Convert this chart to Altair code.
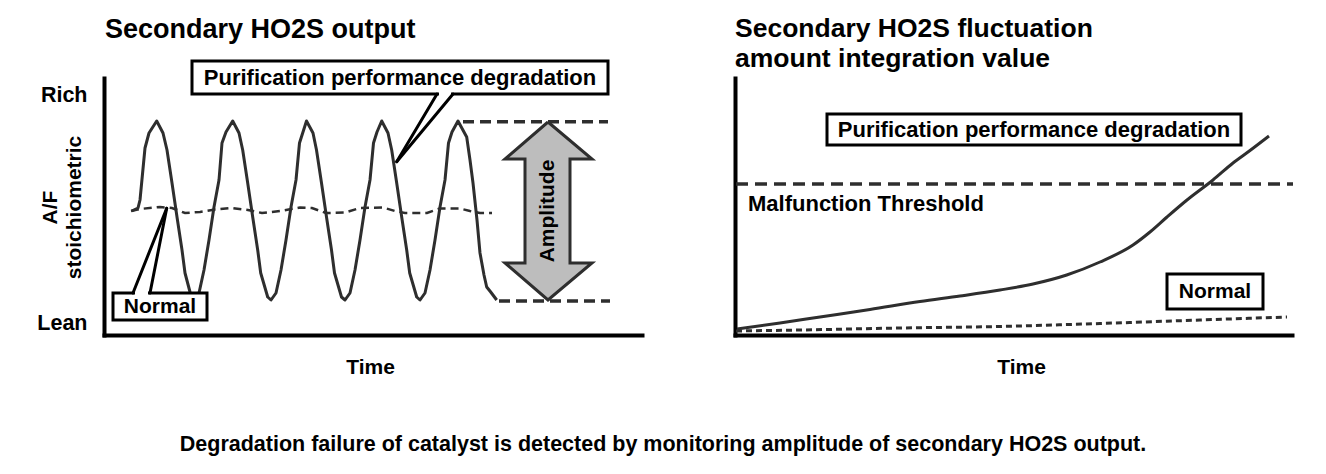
import altair as alt
import pandas as pd

FONT = "Liberation Sans"
INK = "#2e2e2e"
BLACK = "#000000"

# ---------------- left panel: Secondary HO2S output (time vs A/F level) ----------------
left_x_domain = [0, 53.8]
left_y_domain = [0, 25.7]

degraded_output = [
    (2.77, 12.4), (3.4, 12.7), (3.6, 13.5), (4.1, 18.7), (4.5, 20.2), (5.27, 21.4),
    (5.9, 20.2), (6.3, 18.5), (6.8, 15.2), (7.3, 11.8), (7.8, 8.5), (8.1, 6.2), (8.6, 4.3), (9.0, 3.7),
    (9.5, 4.2), (10.0, 6.5), (10.5, 9.5), (11.0, 12.8), (11.5, 15.5), (11.8, 19.2), (12.2, 20.3), (12.87, 21.4),
    (13.5, 20.2), (13.87, 18.5), (14.37, 15.2), (14.87, 11.8), (15.37, 8.5), (15.67, 6.2), (16.37, 3.8), (16.7, 3.5),
    (17.2, 4.2), (17.7, 6.5), (18.2, 9.5), (18.7, 12.8), (19.2, 15.5), (19.55, 19.2), (19.9, 20.3), (20.25, 21.4),
    (20.9, 20.2), (21.25, 18.5), (21.75, 15.2), (22.25, 11.8), (22.75, 8.5), (23.05, 6.2), (23.75, 3.8), (24.1, 3.5),
    (24.6, 4.2), (25.1, 6.5), (25.6, 9.5), (26.1, 12.8), (26.6, 15.5), (26.95, 19.2), (27.3, 20.3), (27.77, 21.4),
    (28.4, 20.2), (28.77, 18.5), (29.27, 15.2), (29.77, 11.8), (30.27, 8.5), (30.57, 6.2), (31.27, 3.8), (31.6, 3.5),
    (32.1, 4.2), (32.6, 6.5), (33.1, 9.5), (33.6, 12.8), (34.1, 15.5), (34.45, 19.2), (34.8, 20.3), (35.4, 21.4),
    (36.27, 19.8), (36.6, 17.5), (36.9, 15.2), (37.3, 11.5), (37.6, 8.2), (38.0, 6.0), (38.27, 4.8),
    (38.67, 4.3), (39.27, 3.5),
]
normal_output = [
    (2.7, 12.4), (3.6, 12.6), (5.6, 12.8), (6.8, 12.7), (8.1, 12.2), (9.6, 12.3), (11.1, 12.55),
    (12.8, 12.7), (14.4, 12.5), (15.8, 12.2), (17.6, 12.4), (19.6, 12.75), (20.8, 12.7), (22.2, 12.2),
    (24.1, 12.25), (25.6, 12.7), (27.9, 12.75), (29.1, 12.4), (30.1, 12.2), (32.3, 12.2), (33.6, 12.65),
    (35.6, 12.65), (36.6, 12.4), (37.6, 12.2), (38.8, 12.2),
]
# amplitude guide lines: x start, x end, level
amplitude_guides = [(35.9, 50.4, 21.33), (39.5, 50.6, 3.4)]
# double-headed arrow outline
arrow_outline = [(44.4, 21.3), (48.8, 17.6), (46.6, 17.6), (46.6, 7.2), (48.8, 7.2), (44.4, 3.5),
                 (40.1, 7.2), (42.1, 7.2), (42.1, 17.6), (40.1, 17.6), (44.4, 21.3)]
amplitude_label = [(44.4, 12.4, "Amplitude")]
# callout boxes: x, x2, y, y2, label, label x, label y, font size
left_boxes = [(8.8, 50.4, 27.4, 24.1, "Purification performance degradation", 29.6, 25.75, 22),
              (0.9, 10.3, 4.2, 1.5, "Normal", 5.6, 2.85, 21)]
left_gaps = [(33.5, 34.7, 24.1), (3.1, 4.4, 4.2)]
left_pointers = [(33.3, 24.1, 29.27, 17.33), (34.9, 24.1, 29.27, 17.33),
                 (2.9, 4.2, 6.27, 12.67), (4.6, 4.2, 6.27, 12.67)]
left_title = [(0.1, 29.7, "Secondary HO2S output")]
caption = [(55.9, -11.0, "Degradation failure of catalyst is detected by monitoring amplitude of secondary HO2S output.")]
level_ticks = [1.2, 24.0]
anchor = [(-9.54, 32.64)]

# ---------------- right panel: fluctuation amount integration value ----------------
right_x_domain = [0, 55.7]
right_y_domain = [0, 25.7]

degraded_integral = [
    (0.2, 0.6), (4.5, 1.2), (8.5, 1.8), (13.5, 2.55), (18.5, 3.35), (22.5, 3.9), (26.5, 4.5),
    (29.8, 5.1), (33.17, 6.0), (36.5, 7.3), (39.8, 9.0), (41.5, 10.3), (43.2, 11.8), (45.2, 13.5),
    (47.8, 15.5), (49.8, 17.2), (51.5, 18.45), (53.4, 19.9),
]
normal_integral = [(0.1, 0.4), (6.5, 0.5), (16.5, 0.7), (26.5, 0.85), (36.5, 1.15), (46.5, 1.5), (55.2, 1.8)]
threshold = [(0.1, 55.8, 15.1)]
right_boxes = [(9.2, 50.6, 22.1, 19.0, "Purification performance degradation", 29.9, 20.55, 22),
               (43.2, 52.8, 6.1, 2.6, "Normal", 48.0, 4.35, 21)]
right_title = [(0.0, 29.8, "Secondary HO2S fluctuation\namount integration value")]
threshold_label = [(1.3, 13.15, "Malfunction Threshold")]


def df(rows, cols):
    return pd.DataFrame(rows, columns=cols)


def make_axes(x_domain, y_domain, x_axis, y_axis):
    xs = alt.Scale(domain=x_domain, nice=False, zero=False)
    ys = alt.Scale(domain=y_domain, nice=False, zero=False)

    def X(f):
        return alt.X(f"{f}:Q", scale=xs, axis=x_axis)

    def Y(f):
        return alt.Y(f"{f}:Q", scale=ys, axis=y_axis)
    return X, Y


common_axis = dict(grid=False, ticks=False, domainColor=BLACK, domainWidth=4, domainCap="square")

left_x_axis = alt.Axis(title="Time", labels=False, titleX=266, titleY=32, titleBaseline="middle",
                       titleAlign="center", titleFontSize=21, titleFontWeight="bold", titleColor=BLACK,
                       titleFont=FONT, **common_axis)
left_y_axis = alt.Axis(title=["A/F", "stoichiometric"], values=level_ticks,
                       labelExpr="datum.value > 12 ? 'Rich' : 'Lean'", labelFontSize=21.5,
                       labelFontWeight="bold", labelColor=BLACK, labelFont=FONT, labelPadding=17,
                       labelBaseline="middle", titleX=-54, titleY=129, titleAngle=270, titleAlign="center",
                       titleBaseline="middle", titleFontSize=21, titleFontWeight="bold", titleColor=BLACK,
                       titleFont=FONT, titleLineHeight=24, **common_axis)
right_x_axis = alt.Axis(title="Time", labels=False, titleX=286, titleY=32, titleBaseline="middle",
                        titleAlign="center", titleFontSize=21, titleFontWeight="bold", titleColor=BLACK,
                        titleFont=FONT, **common_axis)
right_y_axis = alt.Axis(title=None, labels=False, **common_axis)

LX, LY = make_axes(left_x_domain, left_y_domain, left_x_axis, left_y_axis)
RX, RY = make_axes(right_x_domain, right_y_domain, right_x_axis, right_y_axis)


def text_layer(data, X, Y, size, align="left", baseline="middle", angle=0, line_height=None):
    kw = dict(font=FONT, fontSize=size, fontWeight="bold", color=BLACK, align=align, baseline=baseline)
    if angle:
        kw["angle"] = angle
    if line_height:
        kw["lineBreak"] = "\n"
        kw["lineHeight"] = line_height
    return alt.Chart(df(data, ["x", "y", "text"])).mark_text(**kw).encode(x=X("x"), y=Y("y"), text="text:N")


def box_layers(boxes, X, Y):
    b = df(boxes, ["x", "x2", "y", "y2", "label", "tx", "ty", "size"])
    rect = alt.Chart(b).mark_rect(fill="white", stroke=BLACK, strokeWidth=3).encode(
        x=X("x"), x2=alt.X2("x2"), y=Y("y"), y2=alt.Y2("y2"))
    return b, rect


def box_texts(b, X, Y):
    layers = []
    for size in sorted(b["size"].unique()):
        sub = b[b["size"] == size]
        layers.append(alt.Chart(sub).mark_text(font=FONT, fontSize=float(size), fontWeight="bold",
                                               color=BLACK, align="center", baseline="middle").encode(
            x=X("tx"), y=Y("ty"), text="label:N"))
    return layers


# ---- left panel layers
wave = alt.Chart(df(degraded_output, ["t", "v"])).mark_line(
    color=INK, strokeWidth=3, strokeJoin="round").encode(x=LX("t"), y=LY("v"))
normal_wave = alt.Chart(df(normal_output, ["t", "v"])).mark_line(
    color=INK, strokeWidth=2.5, strokeDash=[8, 5]).encode(x=LX("t"), y=LY("v"))
guides = alt.Chart(df(amplitude_guides, ["x", "x2", "y"])).mark_rule(
    color=INK, strokeWidth=3.5, strokeDash=[11, 6]).encode(x=LX("x"), x2=alt.X2("x2"), y=LY("y"))
arrow_df = df(arrow_outline, ["x", "y"])
arrow_df["i"] = range(len(arrow_df))
arrow = alt.Chart(arrow_df).mark_line(fill="#bdbdbd", stroke=INK, strokeWidth=3, strokeJoin="miter").encode(
    x=LX("x"), y=LY("y"), order=alt.Order("i:Q"))
amp_text = text_layer(amplitude_label, LX, LY, 21, align="center", baseline="middle", angle=270)
lb, left_rects = box_layers(left_boxes, LX, LY)
gaps = alt.Chart(df(left_gaps, ["x", "x2", "y"])).mark_rule(color="white", strokeWidth=5).encode(
    x=LX("x"), x2=alt.X2("x2"), y=LY("y"))
pointers = alt.Chart(df(left_pointers, ["x", "y", "x2", "y2"])).mark_rule(
    color=BLACK, strokeWidth=3, strokeCap="round").encode(
    x=LX("x"), y=LY("y"), x2=alt.X2("x2"), y2=alt.Y2("y2"))
l_title = text_layer(left_title, LX, LY, 27, align="left", baseline="alphabetic")
cap = text_layer(caption, LX, LY, 21.5, align="center", baseline="middle")
anchor_pt = alt.Chart(df(anchor, ["x", "y"])).mark_point(size=1, opacity=0, filled=True, strokeWidth=0).encode(
    x=LX("x"), y=LY("y"))

left = alt.layer(wave, normal_wave, guides, arrow, amp_text, left_rects, gaps, pointers,
                 *box_texts(lb, LX, LY), l_title, cap, anchor_pt).properties(width=538, height=257)

# ---- right panel layers
thr = alt.Chart(df(threshold, ["x", "x2", "y"])).mark_rule(
    color=INK, strokeWidth=3.5, strokeDash=[12, 7]).encode(x=RX("x"), x2=alt.X2("x2"), y=RY("y"))
deg = alt.Chart(df(degraded_integral, ["t", "v"])).mark_line(
    color=INK, strokeWidth=3, interpolate="monotone").encode(x=RX("t"), y=RY("v"))
nor = alt.Chart(df(normal_integral, ["t", "v"])).mark_line(
    color=INK, strokeWidth=3, strokeDash=[6, 4], interpolate="monotone").encode(x=RX("t"), y=RY("v"))
rb, right_rects = box_layers(right_boxes, RX, RY)
r_title = text_layer(right_title, RX, RY, 26.5, align="left", baseline="alphabetic", line_height=30)
thr_text = text_layer(threshold_label, RX, RY, 22, align="left", baseline="middle")

right = alt.layer(thr, deg, nor, right_rects, *box_texts(rb, RX, RY), r_title, thr_text).properties(
    width=557, height=257)

chart = alt.hconcat(left, right, spacing=93, bounds="flush").properties(
    padding=0, background="white"
).configure_view(stroke=None)

chart.save("out.html", embed_options={"renderer": "svg", "actions": False})
